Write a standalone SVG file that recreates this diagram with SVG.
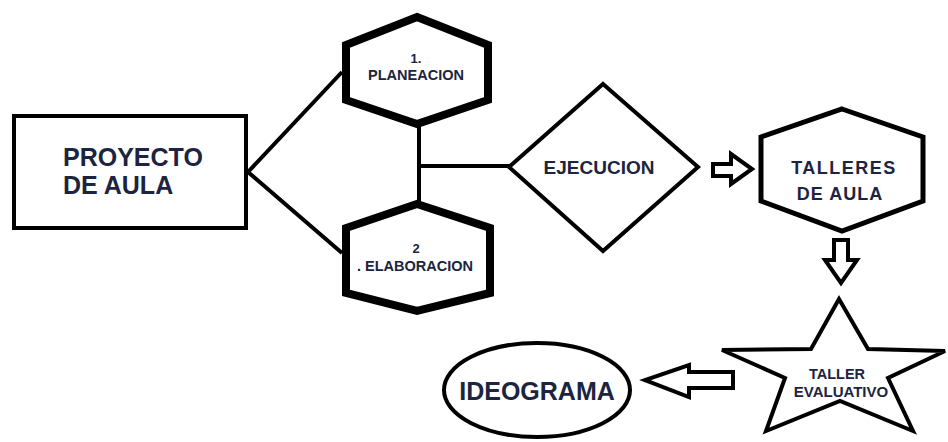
<svg xmlns="http://www.w3.org/2000/svg" width="948" height="442" viewBox="0 0 948 442">
<style>
  .t{font-family:"Liberation Sans",Arial,sans-serif;font-weight:bold;fill:#1c2440;text-anchor:middle}
  .l{text-anchor:start}
  .s{fill:#fff;stroke:#000;stroke-linejoin:miter}
  .c{fill:none;stroke:#000;stroke-width:4}
  .a{fill:#fff;stroke:#000;stroke-width:4;stroke-linejoin:miter}
</style>
<rect width="948" height="442" fill="#fff"/>
<g id="connectors">
  <polyline class="c" points="342,72 248,172 342,253"/>
  <line class="c" x1="419" y1="124" x2="419" y2="204"/>
  <line class="c" x1="419" y1="166" x2="510" y2="166"/>
  <path id="arrow-right" class="a" d="M713,164 H731 V154 L752,169 L731,184 V176 H713 Z"/>
  <path id="arrow-down" class="a" d="M834,240 H848 V260 H857 L841,283 L825,260 H834 Z"/>
  <path id="arrow-left" class="a" d="M733,372 H689 V365 L645,380 L689,397 V388 H733 Z"/>
</g>
<g id="proyecto">
  <rect class="s" x="14" y="116" width="232" height="112" stroke-width="4"/>
  <text class="t l" x="63" y="166" font-size="25">PROYECTO</text>
  <text class="t l" x="63" y="194" font-size="25">DE AULA</text>
</g>
<g id="planeacion">
  <polygon class="s" stroke-width="8" points="417,17 488,45 488,100 417,124 346,100 346,45"/>
  <text class="t" x="416" y="63" font-size="13">1.</text>
  <text class="t" x="416" y="80" font-size="14.5">PLANEACION</text>
</g>
<g id="elaboracion">
  <polygon class="s" stroke-width="8" points="417,204 490,228 490,293 417,311 346,293 346,228"/>
  <text class="t" x="416" y="253" font-size="13">2</text>
  <text class="t" x="415" y="271" font-size="14.5">. ELABORACION</text>
</g>
<g id="ejecucion">
  <polygon class="s" stroke-width="4" points="603,84 698,167 603,251 509,167"/>
  <text class="t" x="599" y="174" font-size="19">EJECUCION</text>
</g>
<g id="talleres">
  <polygon class="s" stroke-width="5" points="842,109 923,137 923,201 842,231 761,201 761,137"/>
  <text class="t" x="844" y="174" font-size="18" letter-spacing="1.5">TALLERES</text>
  <text class="t" x="840" y="200" font-size="18" letter-spacing="1">DE AULA</text>
</g>
<g id="taller-evaluativo">
  <polygon class="s" stroke-width="4" points="839,299 811,349 722,350 785,378 766,431 840,401 913,431 888,378 945,351 868,349"/>
  <text class="t" x="837" y="379" font-size="14.5">TALLER</text>
  <text class="t" x="841" y="397" font-size="15">EVALUATIVO</text>
</g>
<g id="ideograma">
  <ellipse class="s" stroke-width="4" cx="537" cy="390" rx="93" ry="47"/>
  <text class="t" x="537" y="400" font-size="25">IDEOGRAMA</text>
</g>
</svg>
